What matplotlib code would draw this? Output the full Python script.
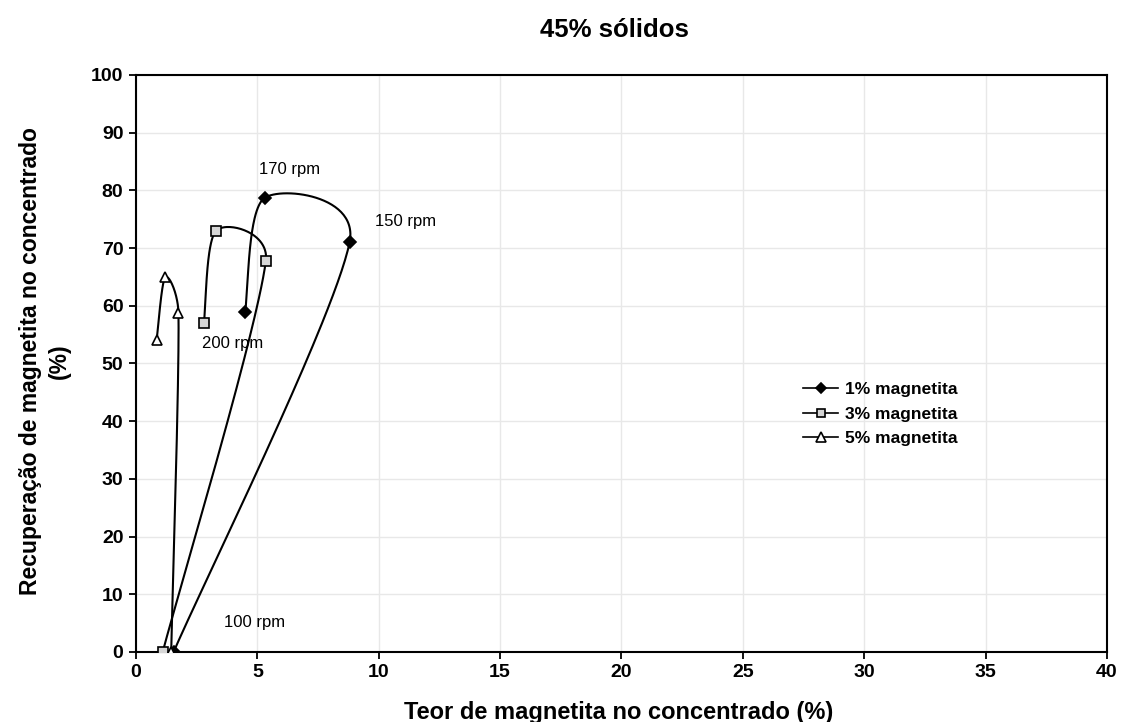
import numpy as np
import matplotlib
matplotlib.use("Agg")
import matplotlib.pyplot as plt

plt.rcParams["font.family"] = ["Liberation Sans", "DejaVu Sans"]

# Ensaios a 100, 150, 170 e 200 rpm para cada teor de magnetita na alimentação
rotacao = ["100 rpm", "150 rpm", "170 rpm", "200 rpm"]
teor_1 = [1.55, 8.8, 5.3, 4.5]
rec_1 = [0.0, 71.0, 78.7, 59.0]
teor_3 = [1.1, 5.35, 3.3, 2.8]
rec_3 = [0.0, 67.8, 73.0, 57.0]
teor_5 = [1.45, 1.75, 1.2, 0.85]
rec_5 = [0.0, 58.7, 64.9, 54.0]


def suavizar(ax, x, y, n=60):
    # linha suavizada (Bezier, tensão 1/6 limitada a meio segmento),
    # calculada em coordenadas de tela
    p = ax.transData.transform(np.column_stack([x, y]))
    ext = np.vstack([p[0], p, p[-1]])
    curva = []
    for i in range(len(p) - 1):
        p0, p1, p2, p3 = ext[i], ext[i + 1], ext[i + 2], ext[i + 3]
        d12 = np.linalg.norm(p2 - p1)
        d02 = np.linalg.norm(p2 - p0)
        d13 = np.linalg.norm(p3 - p1)
        h1 = min(d02 / 6.0, d12 / 2.0)
        h2 = min(d13 / 6.0, d12 / 2.0)
        c1 = p1 + (p2 - p0) / d02 * h1 if d02 > 0 else p1
        c2 = p2 - (p3 - p1) / d13 * h2 if d13 > 0 else p2
        t = np.linspace(0, 1, n)[:, None]
        seg = ((1 - t) ** 3 * p1 + 3 * (1 - t) ** 2 * t * c1
               + 3 * (1 - t) * t ** 2 * c2 + t ** 3 * p2)
        curva.append(seg)
    curva = np.vstack(curva)
    dados = ax.transData.inverted().transform(curva)
    return dados[:, 0], dados[:, 1]


fig = plt.figure(figsize=(11.23, 7.22), dpi=100)
ax = fig.add_axes([0.1211, 0.0970, 0.8646, 0.7992])
ax.set_xlim(0, 40)
ax.set_ylim(0, 100)

series = [
    (teor_1, rec_1, "D", "black", 6, "1% magnetita"),
    (teor_3, rec_3, "s", "#d6d6d6", 6.5, "3% magnetita"),
    (teor_5, rec_5, "^", "white", 7, "5% magnetita"),
]
for x, y, m, fc, ms, nome in series:
    xs, ys = suavizar(ax, x, y)
    ax.plot(xs, ys, color="black", lw=1.5, zorder=3)
    ax.plot(x, y, linestyle="none", marker=m, markerfacecolor=fc,
            markeredgecolor="black", markeredgewidth=1.2, markersize=ms, zorder=4)
    ax.plot([], [], color="black", lw=1.2, marker=m, markerfacecolor=fc,
            markeredgecolor="black", markeredgewidth=1.2, markersize=ms - 0.5,
            label=nome)

# rótulos de rotação
ax.text(6.34, 82.9, rotacao[2], fontsize=12, ha="center", va="baseline")
ax.text(11.1, 73.9, rotacao[1], fontsize=12, ha="center", va="baseline")
ax.text(4.0, 52.6, rotacao[3], fontsize=12, ha="center", va="baseline")
ax.text(4.9, 4.3, rotacao[0], fontsize=12, ha="center", va="baseline")

ax.set_xticks(np.arange(0, 41, 5))
ax.set_yticks(np.arange(0, 101, 10))
ax.grid(True, color="#e8e8e8", lw=1.0)
ax.set_axisbelow(True)
for s in ax.spines.values():
    s.set_linewidth(1.5)
ax.tick_params(direction="out", length=5, width=1.3, labelsize=14, pad=4)
for lab in ax.get_xticklabels() + ax.get_yticklabels():
    lab.set_fontweight("bold")

fig.text(0.551, 1 - 719 / 722, "Teor de magnetita no concentrado (%)",
         fontsize=17, fontweight="bold", ha="center", va="baseline")
fig.text(0.040, 0.5, "Recuperação de magnetita no concentrado\n(%)",
         fontsize=16.5, fontweight="bold", rotation=90, ha="center",
         va="center", multialignment="center", linespacing=1.35)
fig.text(0.547, 1 - 37 / 722, "45% sólidos", fontsize=18.5,
         fontweight="bold", ha="center", va="baseline")

leg = ax.legend(loc="upper left", bbox_to_anchor=(0.68, 0.48), frameon=False,
                fontsize=12.5, handlelength=2.0, handletextpad=0.4,
                labelspacing=0.55, borderaxespad=0)
for t in leg.get_texts():
    t.set_fontweight("bold")

fig.savefig("out.png", dpi=100, facecolor="white")
